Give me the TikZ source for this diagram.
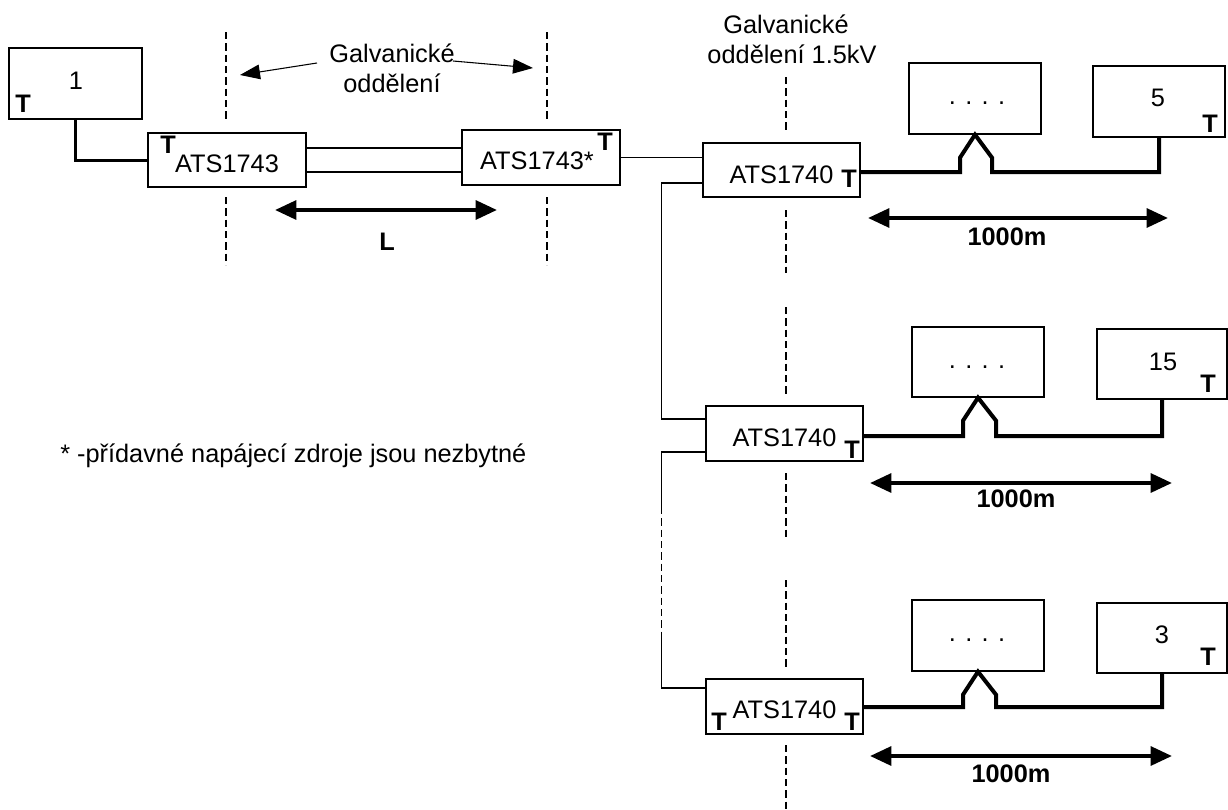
\documentclass[tikz,border=0pt]{standalone}
\usepackage{fontspec}
\setmainfont{Liberation Sans}
\usetikzlibrary{arrows.meta,calc}
\begin{document}
\begin{tikzpicture}[x=0.75pt,y=-0.75pt,
  font=\fontsize{19}{23}\selectfont,
  box/.style={draw,line width=1pt,inner sep=0pt},
  txt/.style={inner sep=0pt,anchor=base},
  tb/.style={inner sep=0pt,anchor=base,font=\fontsize{19}{23}\selectfont\bfseries},
  thinw/.style={line width=1pt},
  midw/.style={line width=2.25pt},
  thickw/.style={line width=3pt},
  sep/.style={line width=1pt,dash pattern=on 5.5pt off 3pt},
  dim/.style={line width=3pt,{Triangle[length=16pt,width=14pt]}-{Triangle[length=16pt,width=14pt]}},
  ptr/.style={line width=0.8pt,-{Triangle[length=15pt,width=11pt]}}
]
\useasboundingbox (0,0) rectangle (1228,810);

% boxes
\node[box,minimum width=133*0.75pt,minimum height=71*0.75pt] (b1) at (75.5,83.5) {};
\node[box,minimum width=158*0.75pt,minimum height=54*0.75pt] (a43) at (227,160) {};
\node[box,minimum width=158*0.75pt,minimum height=55*0.75pt] (a43s) at (541,157.5) {};
\node[box,minimum width=157*0.75pt,minimum height=54*0.75pt] (a40a) at (781.5,170) {};
\node[box,minimum width=157*0.75pt,minimum height=55*0.75pt] (a40b) at (784.5,433.5) {};
\node[box,minimum width=157*0.75pt,minimum height=55*0.75pt] (a40c) at (784.5,706.5) {};
\node[box,minimum width=132*0.75pt,minimum height=71*0.75pt] (d1) at (975,98.5) {};
\node[box,minimum width=132*0.75pt,minimum height=71*0.75pt] (t5) at (1159,101.5) {};
\node[box,minimum width=132*0.75pt,minimum height=70*0.75pt] (d2) at (978,362) {};
\node[box,minimum width=130*0.75pt,minimum height=70*0.75pt] (t15) at (1162,364) {};
\node[box,minimum width=132*0.75pt,minimum height=71*0.75pt] (d3) at (978,635.5) {};
\node[box,minimum width=130*0.75pt,minimum height=70*0.75pt] (t3) at (1162,638) {};

% texts in boxes
\node[txt] (n1) at (76,89) {1};
\node[tb] (tb1) at (23,112) {T};
\node[tb] (ta43) at (168,153) {T};
\node[txt] (la43) at (227,172) {ATS1743};
\node[txt] (la43s) at (537,169) {ATS1743*};
\node[tb] (ta43s) at (605,150) {T};
\node[txt] (la40a) at (781.5,183) {ATS1740};
\node[tb] (ta40a) at (849,187) {T};
\node[txt] (la40b) at (784.5,446) {ATS1740};
\node[tb] (ta40b) at (852,458) {T};
\node[txt] (la40c) at (784.5,718) {ATS1740};
\node[tb] (ta40cl) at (719,730) {T};
\node[tb] (ta40cr) at (852,730) {T};
\node[txt] (dt1) at (977,104) {. . . .};
\node[txt] (dt2) at (977,368) {. . . .};
\node[txt] (dt3) at (977,641) {. . . .};
\node[txt] (n5) at (1158,106) {5};
\node[tb] (t5t) at (1210,132) {T};
\node[txt] (n15) at (1163,370) {15};
\node[tb] (t15t) at (1208,392) {T};
\node[txt] (n3) at (1162,643) {3};
\node[tb] (t3t) at (1208,665) {T};

% labels
\node[txt] (g1a) at (392,62) {Galvanické};
\node[txt] (g1b) at (392,92) {oddělení};
\node[txt] (g2a) at (786,33) {Galvanické};
\node[txt] (g2b) at (792,63) {oddělení 1.5kV};
\node[tb] (lL) at (387,250) {L};
\node[tb] (m1) at (1007,245) {1000m};
\node[tb] (m2) at (1016,507) {1000m};
\node[tb] (m3) at (1011,782) {1000m};
\node[txt,anchor=base west] (note) at (60,462) {* -přídavné napájecí zdroje jsou nezbytné};

% separation lines
\draw[sep] (226,32) -- (226,120);
\draw[sep] (226,197) -- (226,265);
\draw[sep] (547,32) -- (547,120);
\draw[sep] (547,197) -- (547,265);
\draw[sep] (786,77) -- (786,130);
\draw[sep] (786,210) -- (786,273);
\draw[sep] (786,307) -- (786,397);
\draw[sep] (786,473) -- (786,540);
\draw[sep] (786,580) -- (786,670);
\draw[sep] (786,745) -- (786,810);

% pointer arrows
\coordinate (p1s) at (317,63); \coordinate (p1e) at (240,75);
\coordinate (p2s) at (453,61); \coordinate (p2e) at (533,68);
\draw[ptr] (p1s) -- (p1e);
\draw[ptr] (p2s) -- (p2e);

% connections
\draw[midw] (b1.south) |- (a43.west);
\draw[thinw] ($(a43.east)+(0,-12)$) -- ($(a43s.west |- a43.east)+(0,-12)$);
\draw[thinw] ($(a43.east)+(0,12)$) -- ($(a43s.west |- a43.east)+(0,12)$);
\draw[thinw] (a43s.east) -- (a43s.east -| a40a.west);
\draw[thinw] ($(a40a.west)+(0,13)$) -| ($(a40b.west)+(-44,-14.5)$) -- ($(a40b.west)+(0,-14.5)$);
\draw[thinw] ($(a40b.west)+(0,18.5)$) -- ++(-44,0) coordinate (v1) -- ++(0,55) coordinate (v2);
\draw[sep] (v2) -- ++(0,128) coordinate (v3);
\draw[thinw] (v3) |- ($(a40c.west)+(0,-18.5)$);

\draw[thickw] ($(a40a.east)+(0,2)$) -- ($(d1.south |- a40a.east)+(-15,2)$) -- ($(d1.south)+(-15,23)$) -- (d1.south) -- ($(d1.south)+(17,23)$) -- ($(d1.south |- a40a.east)+(17,2)$) -| (t5.south);
\draw[thickw] ($(a40b.east)+(0,2.5)$) -- ($(d2.south |- a40b.east)+(-15,2.5)$) -- ($(d2.south)+(-15,23)$) -- (d2.south) -- ($(d2.south)+(18,23)$) -- ($(d2.south |- a40b.east)+(18,2.5)$) -| (t15.south);
\draw[thickw] ($(a40c.east)+(0,0.5)$) -- ($(d3.south |- a40c.east)+(-15,0.5)$) -- ($(d3.south)+(-15,23)$) -- (d3.south) -- ($(d3.south)+(18,23)$) -- ($(d3.south |- a40c.east)+(18,0.5)$) -| (t3.south);

% dimension arrows
\coordinate (La) at (275,210); \coordinate (Lb) at (497,210);
\draw[dim] (La) -- (Lb);
\coordinate (r1a) at (868,218); \coordinate (r1b) at (1168,218);
\draw[dim] (r1a) -- (r1b);
\coordinate (r2a) at (870,483); \coordinate (r2b) at (1172,483);
\draw[dim] (r2a) -- (r2b);
\coordinate (r3a) at (870,756); \coordinate (r3b) at (1172,756);
\draw[dim] (r3a) -- (r3b);
\end{tikzpicture}
\end{document}
